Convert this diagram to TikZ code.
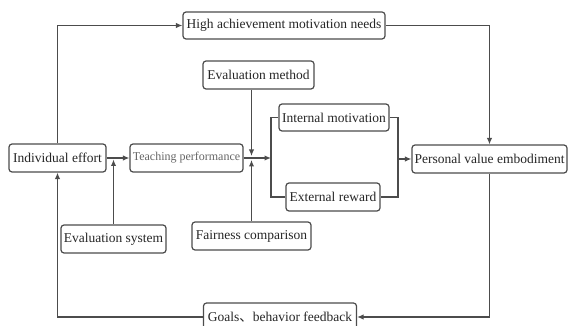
\documentclass[tikz,border=0pt]{standalone}
\usepackage{fontspec}
\setmainfont{Liberation Serif}
\newfontfamily\cjk{Noto Sans CJK SC}
\usetikzlibrary{arrows.meta,positioning}

\tikzset{
  block/.style={draw=black!70, line width=1.2pt, rounded corners=3pt, fill=white,
    minimum height=28, inner sep=2pt, text=black!85,
    font=\fontsize{13.5}{15}\selectfont},
  link/.style={draw=black!70, line width=1.2pt},
  >={Latex[length=6.5pt,width=5.5pt]}
}

\begin{document}
\begin{tikzpicture}[x=1pt,y=-1pt]
\useasboundingbox (0,0) rectangle (568,326);
% boxes
\node[block, minimum width=202, minimum height=27] (high) at (284,25.5) {High achievement motivation needs};
\node[block, minimum width=111] (method) at (258.5,75) {Evaluation method};
\node[block, minimum width=110, minimum height=27] (internal) at (334,117.5) {Internal motivation};
\node[block, minimum width=97] (effort) at (57.5,158) {Individual effort};
\node[block, minimum width=113, font=\fontsize{12}{14}\selectfont, text=black!60] (teach) at (186.5,158) {Teaching performance};
\node[block, minimum width=155] (value) at (489.5,159) {Personal value embodiment};
\node[block, minimum width=94] (external) at (333,197) {External reward};
\node[block, minimum width=105] (esys) at (113.5,239) {Evaluation system};
\node[block, minimum width=119] (fair) at (251.5,236) {Fairness comparison};
\node[block, minimum width=153] (goals) at (280,317) {Goals{\cjk 、}behavior feedback};
% junction points
\coordinate (split) at (271,158);
\coordinate (cross) at (teach.east -| fair.north);
\coordinate (merge) at (value.west -| 398,0);
% connectors
\draw[link,->] (effort.north) |- (high.west);
\draw[link,->] (high.east) -| (value.north);
\draw[link,->] (effort) -- (teach);
\draw[link,->] (esys.north) -- ([yshift=-1.5pt]esys.north |- effort.east);
\draw[link,->] (teach.east) -- (split);
\draw[link,->] (method.south -| cross) -- ([yshift=2pt]cross);
\draw[link,->] (fair.north) -- ([yshift=-2pt]cross);
\draw[link] (internal.west) -| (split) |- (external.west);
\draw[link] (internal.east) -| (merge) |- (external.east);
\draw[link,->] (merge) -- (value.west);
\draw[link,->] (value.south) |- (goals.east);
\draw[link,->] (goals.west) -| (effort.south);
\end{tikzpicture}
\end{document}
